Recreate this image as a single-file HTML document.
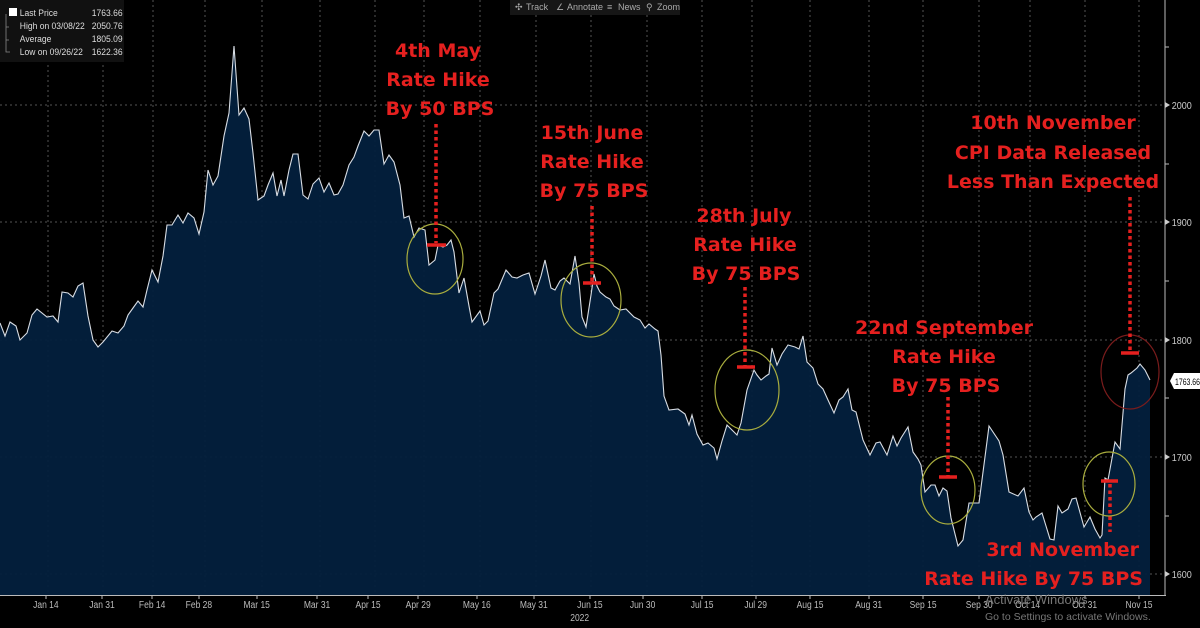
<!DOCTYPE html>
<html><head><meta charset="utf-8"><style>
html,body{margin:0;padding:0;background:#000;width:1200px;height:628px;overflow:hidden}
svg{display:block}
.ann{font-family:"DejaVu Sans","Liberation Sans",sans-serif;font-weight:bold;font-size:19px;fill:#e5201f;text-anchor:middle}
.tk{font-family:"Liberation Sans",sans-serif;font-size:10px;fill:#bbb;text-anchor:middle}
</style></head><body>
<svg width="1200" height="628" viewBox="0 0 1200 628" xmlns="http://www.w3.org/2000/svg">
<rect width="1200" height="628" fill="#000"/>
<g stroke="#555" stroke-width="1" stroke-dasharray="2,3">
<line x1="0" y1="105" x2="1165" y2="105"/><line x1="0" y1="222" x2="1165" y2="222"/><line x1="0" y1="340" x2="1165" y2="340"/><line x1="0" y1="457" x2="1165" y2="457"/><line x1="0" y1="574" x2="1165" y2="574"/>
<line x1="48" y1="0" x2="48" y2="595"/><line x1="103" y1="0" x2="103" y2="595"/><line x1="153" y1="0" x2="153" y2="595"/><line x1="205" y1="0" x2="205" y2="595"/><line x1="262" y1="0" x2="262" y2="595"/><line x1="320" y1="0" x2="320" y2="595"/><line x1="375" y1="0" x2="375" y2="595"/><line x1="424" y1="0" x2="424" y2="595"/><line x1="480" y1="0" x2="480" y2="595"/><line x1="536" y1="0" x2="536" y2="595"/><line x1="591" y1="0" x2="591" y2="595"/><line x1="647" y1="0" x2="647" y2="595"/><line x1="702" y1="0" x2="702" y2="595"/><line x1="752" y1="0" x2="752" y2="595"/><line x1="810" y1="0" x2="810" y2="595"/><line x1="869" y1="0" x2="869" y2="595"/><line x1="923" y1="0" x2="923" y2="595"/><line x1="979" y1="0" x2="979" y2="595"/><line x1="1030" y1="0" x2="1030" y2="595"/><line x1="1085" y1="0" x2="1085" y2="595"/><line x1="1139" y1="0" x2="1139" y2="595"/>
</g>
<polygon fill="#03203d" fill-opacity="0.95" points="0,595 0,323 5,336 10,322 16,326 20,340 27,333 32,315 37,309 47,317 53,316 58,322 62,292 68,293 73,297 78,286 83,283 88,316 93,340 98,347 103,342 112,331 118,333 124,326 128,315 133,308 138,301 143,307 147,290 152,270 158,282 163,256 167,225 172,225 178,215 183,223 188,213 194,218 199,234 204,212 208,170 213,185 218,176 224,136 229,113 234,46 239,115 244,108 249,119 253,153 258,200 264,196 268,185 273,173 277,196 281,180 284,196 289,170 293,154 298,154 303,195 308,199 313,184 319,178 324,192 329,183 334,195 338,194 343,185 349,165 354,157 358,146 364,131 369,136 374,130 379,130 384,164 389,155 394,162 400,185 404,218 409,216 414,237 419,228 425,230 429,265 435,260 438,245 443,247 447,245 451,240 454,252 459,293 464,278 469,306 472,322 480,311 484,325 488,321 494,293 498,289 506,270 512,277 517,278 523,275 529,273 535,294 541,276 545,260 551,288 555,290 560,281 564,278 570,284 575,256 579,283 582,317 586,327 591,295 594,274 597,286 600,292 606,297 610,299 614,306 620,310 626,309 634,317 640,320 645,328 649,324 655,329 658,331 661,355 664,396 669,410 678,409 685,414 689,425 692,415 697,434 703,445 708,443 714,448 717,459 722,441 727,425 732,430 737,435 741,423 747,390 754,370 757,375 761,380 766,376 769,374 772,348 777,365 782,354 788,345 795,347 799,349 803,336 807,362 813,368 818,384 823,389 828,400 834,413 839,400 843,397 848,389 852,410 856,412 863,440 870,455 876,443 880,442 887,455 893,436 897,446 901,438 908,427 913,452 918,459 921,465 925,492 931,485 935,485 939,496 943,488 947,491 951,518 958,546 963,540 969,503 979,503 989,426 999,441 1003,455 1009,492 1018,496 1024,488 1029,512 1033,520 1036,517 1042,513 1046,526 1050,539 1054,540 1058,506 1062,513 1068,509 1072,499 1076,498 1084,527 1090,517 1095,529 1100,538 1102,535 1105,478 1108,480 1115,442 1120,449 1125,389 1128,375 1131,373 1137,368 1140,364 1145,370 1150,380 1150,595"/>
<polyline fill="none" stroke="#d8dde4" stroke-width="1.1" points="0,323 5,336 10,322 16,326 20,340 27,333 32,315 37,309 47,317 53,316 58,322 62,292 68,293 73,297 78,286 83,283 88,316 93,340 98,347 103,342 112,331 118,333 124,326 128,315 133,308 138,301 143,307 147,290 152,270 158,282 163,256 167,225 172,225 178,215 183,223 188,213 194,218 199,234 204,212 208,170 213,185 218,176 224,136 229,113 234,46 239,115 244,108 249,119 253,153 258,200 264,196 268,185 273,173 277,196 281,180 284,196 289,170 293,154 298,154 303,195 308,199 313,184 319,178 324,192 329,183 334,195 338,194 343,185 349,165 354,157 358,146 364,131 369,136 374,130 379,130 384,164 389,155 394,162 400,185 404,218 409,216 414,237 419,228 425,230 429,265 435,260 438,245 443,247 447,245 451,240 454,252 459,293 464,278 469,306 472,322 480,311 484,325 488,321 494,293 498,289 506,270 512,277 517,278 523,275 529,273 535,294 541,276 545,260 551,288 555,290 560,281 564,278 570,284 575,256 579,283 582,317 586,327 591,295 594,274 597,286 600,292 606,297 610,299 614,306 620,310 626,309 634,317 640,320 645,328 649,324 655,329 658,331 661,355 664,396 669,410 678,409 685,414 689,425 692,415 697,434 703,445 708,443 714,448 717,459 722,441 727,425 732,430 737,435 741,423 747,390 754,370 757,375 761,380 766,376 769,374 772,348 777,365 782,354 788,345 795,347 799,349 803,336 807,362 813,368 818,384 823,389 828,400 834,413 839,400 843,397 848,389 852,410 856,412 863,440 870,455 876,443 880,442 887,455 893,436 897,446 901,438 908,427 913,452 918,459 921,465 925,492 931,485 935,485 939,496 943,488 947,491 951,518 958,546 963,540 969,503 979,503 989,426 999,441 1003,455 1009,492 1018,496 1024,488 1029,512 1033,520 1036,517 1042,513 1046,526 1050,539 1054,540 1058,506 1062,513 1068,509 1072,499 1076,498 1084,527 1090,517 1095,529 1100,538 1102,535 1105,478 1108,480 1115,442 1120,449 1125,389 1128,375 1131,373 1137,368 1140,364 1145,370 1150,380"/>
<!-- axes -->
<line x1="1165" y1="0" x2="1165" y2="596" stroke="#bbb"/>
<line x1="0" y1="595.5" x2="1166" y2="595.5" stroke="#bbb"/>
<g stroke="#bbb"><line x1="1165" y1="47" x2="1169" y2="47"/><line x1="1165" y1="164" x2="1169" y2="164"/><line x1="1165" y1="281" x2="1169" y2="281"/><line x1="1165" y1="398" x2="1169" y2="398"/><line x1="1165" y1="516" x2="1169" y2="516"/></g>
<g fill="#ccc"><path d="M1165,102 l5,3 l-5,3z"/><path d="M1165,219 l5,3 l-5,3z"/><path d="M1165,337 l5,3 l-5,3z"/><path d="M1165,454 l5,3 l-5,3z"/><path d="M1165,571 l5,3 l-5,3z"/></g>
<g font-family="Liberation Sans,sans-serif" font-size="10" fill="#ccc" transform="scale(0.9,1)">
<text x="1302" y="109">2000</text><text x="1302" y="226">1900</text><text x="1302" y="344">1800</text><text x="1302" y="461">1700</text><text x="1302" y="578">1600</text></g>
<path d="M1170,381 l4,-8 h26 v16 h-26z" fill="#fff"/>
<text x="1175" y="385" font-family="Liberation Sans,sans-serif" font-size="9.5" fill="#000" textLength="25" lengthAdjust="spacingAndGlyphs">1763.66</text>
<!-- x ticks -->
<g class="tk" transform="scale(0.85,1)">
<text x="54" y="608">Jan 14</text><text x="120" y="608">Jan 31</text><text x="179" y="608">Feb 14</text><text x="234" y="608">Feb 28</text><text x="302" y="608">Mar 15</text><text x="373" y="608">Mar 31</text><text x="433" y="608">Apr 15</text><text x="492" y="608">Apr 29</text><text x="561" y="608">May 16</text><text x="628" y="608">May 31</text><text x="694" y="608">Jun 15</text><text x="756" y="608">Jun 30</text><text x="826" y="608">Jul 15</text><text x="889" y="608">Jul 29</text><text x="953" y="608">Aug 15</text><text x="1022" y="608">Aug 31</text><text x="1086" y="608">Sep 15</text><text x="1152" y="608">Sep 30</text><text x="1209" y="608">Oct 14</text><text x="1276" y="608">Oct 31</text><text x="1340" y="608">Nov 15</text>
<text x="682" y="621">2022</text></g>
<g stroke="#bbb"><line x1="46" y1="595" x2="46" y2="599"/><line x1="102" y1="595" x2="102" y2="599"/><line x1="152" y1="595" x2="152" y2="599"/><line x1="199" y1="595" x2="199" y2="599"/><line x1="257" y1="595" x2="257" y2="599"/><line x1="317" y1="595" x2="317" y2="599"/><line x1="368" y1="595" x2="368" y2="599"/><line x1="418" y1="595" x2="418" y2="599"/><line x1="477" y1="595" x2="477" y2="599"/><line x1="534" y1="595" x2="534" y2="599"/><line x1="590" y1="595" x2="590" y2="599"/><line x1="643" y1="595" x2="643" y2="599"/><line x1="702" y1="595" x2="702" y2="599"/><line x1="756" y1="595" x2="756" y2="599"/><line x1="810" y1="595" x2="810" y2="599"/><line x1="869" y1="595" x2="869" y2="599"/><line x1="923" y1="595" x2="923" y2="599"/><line x1="979" y1="595" x2="979" y2="599"/><line x1="1028" y1="595" x2="1028" y2="599"/><line x1="1085" y1="595" x2="1085" y2="599"/><line x1="1139" y1="595" x2="1139" y2="599"/></g>
<g font-family="Liberation Sans,sans-serif" fill="#777"><text x="985" y="604" font-size="13">Activate Windows</text><text x="985" y="620" font-size="10.5">Go to Settings to activate Windows.</text></g>
<!-- legend -->
<rect x="0" y="0" width="124" height="62" fill="#111"/>
<rect x="9" y="8" width="8" height="8" fill="#fff"/>
<g font-family="Liberation Sans,sans-serif" font-size="9.5" fill="#ddd" transform="scale(0.9,1)">
<text x="22" y="16">Last Price</text><text x="102" y="16">1763.66</text>
<text x="22" y="29">High on 03/08/22</text><text x="102" y="29">2050.76</text>
<text x="22" y="42">Average</text><text x="102" y="42">1805.09</text>
<text x="22" y="55">Low on 09/26/22</text><text x="102" y="55">1622.36</text></g>
<path d="M6,14 v38 h4 M6,27 h3 M6,40 h3" stroke="#888" fill="none" stroke-width="0.8"/>
<!-- toolbar -->
<rect x="510" y="0" width="170" height="15" fill="#161616"/>
<g font-family="Liberation Sans,sans-serif" font-size="9" fill="#aaa"><text x="526" y="10">Track</text><text x="567" y="10">Annotate</text><text x="618" y="10">News</text><text x="657" y="10">Zoom</text><text x="515" y="10">✣</text><text x="556" y="10">∠</text><text x="607" y="10">≡</text><text x="646" y="10">⚲</text></g>
<!-- circles -->
<g fill="none" stroke-width="1.2">
<ellipse cx="435" cy="259" rx="28" ry="35" stroke="#a9ad3e"/>
<ellipse cx="591" cy="300" rx="30" ry="37" stroke="#a9ad3e"/>
<ellipse cx="747" cy="390" rx="32" ry="40" stroke="#a9ad3e"/>
<ellipse cx="948" cy="490" rx="27" ry="34" stroke="#a9ad3e"/>
<ellipse cx="1109" cy="484" rx="26" ry="32" stroke="#a9ad3e"/>
<ellipse cx="1130" cy="372" rx="29" ry="37" stroke="#7a1c1c"/>
</g>
<!-- dotted lines -->
<g stroke="#e5201f" stroke-width="3.5" stroke-dasharray="3.5,3">
<line x1="436" y1="124" x2="436" y2="243"/>
<line x1="592" y1="206" x2="592" y2="282"/>
<line x1="745" y1="287" x2="745" y2="366"/>
<line x1="948" y1="397" x2="948" y2="476"/>
<line x1="1130" y1="197" x2="1130" y2="352"/>
<line x1="1110" y1="484" x2="1110" y2="532"/>
</g>
<g stroke="#e5201f" stroke-width="3.5">
<line x1="427" y1="245" x2="446" y2="245"/>
<line x1="583" y1="283" x2="601" y2="283"/>
<line x1="737" y1="367" x2="755" y2="367"/>
<line x1="939" y1="477" x2="957" y2="477"/>
<line x1="1121" y1="353" x2="1139" y2="353"/>
<line x1="1101" y1="481" x2="1118" y2="481"/>
</g>
<!-- annotations -->
<text class="ann" x="438" y="57">4th May</text><text class="ann" x="438" y="86">Rate Hike</text><text class="ann" x="440" y="115">By 50 BPS</text>
<text class="ann" x="592" y="139">15th June</text><text class="ann" x="592" y="168">Rate Hike</text><text class="ann" x="594" y="197">By 75 BPS</text>
<text class="ann" x="744" y="222">28th July</text><text class="ann" x="745" y="251">Rate Hike</text><text class="ann" x="746" y="280">By 75 BPS</text>
<text class="ann" x="944" y="334">22nd September</text><text class="ann" x="944" y="363">Rate Hike</text><text class="ann" x="946" y="392">By 75 BPS</text>
<text class="ann" x="1053" y="129">10th November</text><text class="ann" x="1053" y="159">CPI Data Released</text><text class="ann" x="1053" y="188">Less Than Expected</text>
<text class="ann" x="1139" y="556" style="text-anchor:end">3rd November</text><text class="ann" x="1143" y="585" style="text-anchor:end">Rate Hike By 75 BPS</text>
</svg>
</body></html>
